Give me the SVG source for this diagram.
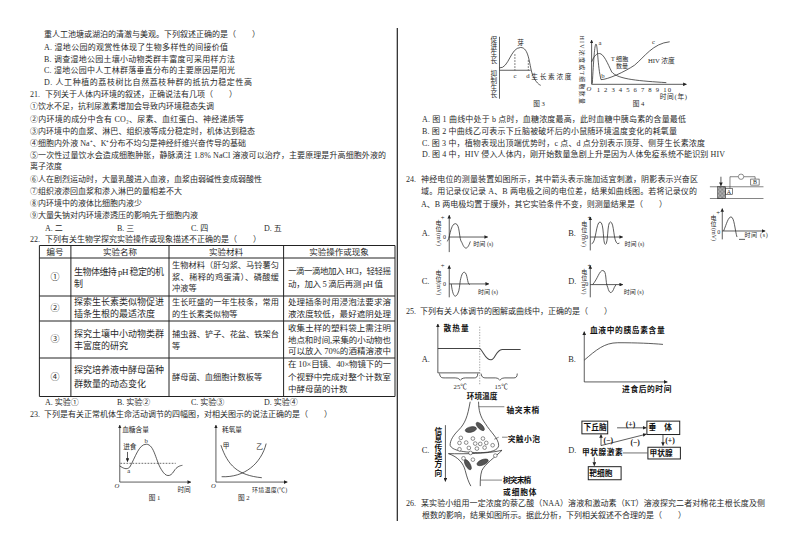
<svg xmlns="http://www.w3.org/2000/svg" width="794" height="560" viewBox="0 0 794 560">
<style>
text{font-family:"Liberation Serif","Noto Sans CJK SC",sans-serif;fill:#2a2a2a;font-size:8px}
.t9{font-size:9px}
.t8{font-size:8.2px}
.t85{font-size:8.5px}
.c{text-anchor:middle}
.f{font-size:20px}
.fs{font-size:18px}
.o{font-size:25px}
.b{font-size:23px;font-weight:700;fill:#111}
.l{fill:none;stroke:#222;stroke-width:2.2}
.th{fill:none;stroke:#333;stroke-width:1.8}
.d{fill:none;stroke:#222;stroke-width:2;stroke-dasharray:5 4}
.m{fill:#555;stroke:#222;stroke-width:1.5}
.box{fill:#fff;stroke:#222;stroke-width:3}
.ves{fill:#fff;stroke:#222;stroke-width:1.5}
</style>
<defs>
<marker id="a" markerWidth="5" markerHeight="5" refX="4.5" refY="2.5" orient="auto"><path d="M0 0L5 2.5L0 5z" fill="#222"/></marker>
<pattern id="h" width="4" height="4" patternUnits="userSpaceOnUse"><path d="M0 4L4 0" stroke="#222" stroke-width="1.2"/><path d="M0 0L4 4" stroke="#777" stroke-width="1"/></pattern>
</defs>
<rect width="794" height="560" fill="#fff"/>
<path d="M397.3 28V521" stroke="#222" stroke-width="1.2"/>

<g id="left-text">
<text x="44" y="37">重人工池塘或湖泊的清澈与美观。下列叙述正确的是（　　）</text>
<text x="44" y="49.5" textLength="184">A.  湿地公园的观赏性体现了生物多样性的间接价值</text>
<text x="44" y="61.5" textLength="191">B.  调查湿地公园土壤小动物类群丰富度可采用样方法</text>
<text x="44" y="73" textLength="191">C.  湿地公园中人工林群落垂直分布的主要原因是阳光</text>
<text x="44" y="85" textLength="208">D.  人工种植的荔枝树比自然荔枝种群的抵抗力稳定性高</text>
<text x="30" y="97">21.</text><text x="45" y="97">下列关于人体内环境的叙述，正确说法有几项（　　）</text>
<text x="30" y="109.4">①饮水不足，抗利尿激素增加会导致内环境稳态失调</text>
<text x="30" y="121.5" textLength="214">②内环境的成分中含有 CO₂、尿素、血红蛋白、神经递质等</text>
<text x="30" y="133.5" textLength="225">③内环境中的血浆、淋巴、组织液等成分稳定时，机体达到稳态</text>
<text x="30" y="145.6" textLength="216">④细胞内外液 Na⁺、K⁺分布不均匀是神经纤维兴奋传导的基础</text>
<text x="30" y="158" textLength="356">⑤一次性过量饮水会造成细胞肿胀，静脉滴注 1.8% NaCl 溶液可以治疗，主要原理是升高细胞外液的</text>
<text x="30" y="169">离子浓度</text>
<text x="30" y="182">⑥人在剧烈运动时，大量乳酸进入血液，血浆由弱碱性变成弱酸性</text>
<text x="30" y="194">⑦组织液渗回血浆和渗入淋巴的量相差不大</text>
<text x="30" y="206">⑧内环境中的液体比细胞内液少</text>
<text x="30" y="218">⑨大量失钠对内环境渗透压的影响先于细胞内液</text>
<text x="45" y="231">A.  二</text><text x="117" y="231">B.  三</text><text x="191" y="231">C.  四</text><text x="264" y="231">D.  五</text>
<text x="30" y="242.4">22.</text><text x="45" y="242.4">下列有关生物学探究实验操作或现象描述不正确的是（　　）</text>
<text x="45" y="405">A.  实验①</text><text x="117" y="405">B.  实验②</text><text x="191" y="405">C.  实验③</text><text x="264" y="405">D.  实验④</text>
<text x="30" y="417">23.</text><text x="44" y="417">下列是有关正常机体生命活动调节的四幅图，对相关图示的说法正确的是（　　）</text>
</g>

<g id="table">
<path d="M39.4 245.5H395V396.5H39.4Z M39.4 258H395 M39.4 296H395 M39.4 321H395 M39.4 358H395 M70.9 245.5V396.5 M169 245.5V396.5 M283.6 245.5V396.5" fill="none" stroke="#222" stroke-width="1"/>
<text class="t85 c" x="55" y="255">编号</text><text class="t85 c" x="120" y="255">实验名称</text><text class="t85 c" x="226" y="255">实验材料</text><text class="t85 c" x="339" y="255">实验操作或现象</text>
<text class="t9 c" x="55" y="280">①</text><text class="t9 c" x="55" y="311">②</text><text class="t9 c" x="55" y="342">③</text><text class="t9 c" x="55" y="380">④</text>
<text class="t9" x="74" y="275" textLength="90">生物体维持 pH 稳定的机</text><text class="t9" x="74" y="287">制</text>
<text class="t8" x="172" y="268" textLength="107">生物材料（肝匀浆、马铃薯匀</text><text class="t8" x="172" y="280" textLength="107">浆、稀释的鸡蛋清）、磷酸缓</text><text class="t8" x="172" y="291">冲液等</text>
<text class="t85" x="288" y="274" textLength="103">一滴一滴地加入 HCl，轻轻摇</text><text class="t85" x="288" y="287" textLength="95">动，加入 5 滴后再测 pH 值</text>
<text class="t9" x="74" y="305">探索生长素类似物促进</text><text class="t9" x="74" y="317">插条生根的最适浓度</text>
<text class="t8" x="172" y="305" textLength="107">生长旺盛的一年生枝条，常用</text><text class="t8" x="172" y="317">的生长素类似物等</text>
<text class="t85" x="288" y="305" textLength="103">处理插条时用浸泡法要求溶</text><text class="t85" x="288" y="317" textLength="103">液浓度较低，最好遮阴处理</text>
<text class="t9" x="74" y="337">探究土壤中小动物类群</text><text class="t9" x="74" y="349">丰富度的研究</text>
<text class="t8" x="172" y="337" textLength="107">捕虫器、铲子、花盆、铁架台</text><text class="t8" x="172" y="349">等</text>
<text class="t85" x="288" y="331" textLength="103">收集土样的塑料袋上需注明</text><text class="t85" x="288" y="343" textLength="103">地点和时间,采集的小动物也</text><text class="t85" x="288" y="354" textLength="103">可以放入 70%的酒精溶液中</text>
<text class="t9" x="74" y="373">探究培养液中酵母菌种</text><text class="t9" x="74" y="387">群数量的动态变化</text>
<text class="t8" x="172" y="380">酵母菌、血细胞计数板等</text>
<text class="t85" x="288" y="367" textLength="103">在 10×目镜、40×物镜下的一</text><text class="t85" x="288" y="380" textLength="103">个视野中完成对整个计数室</text><text class="t85" x="288" y="392">中酵母菌的计数</text>
</g>

<g id="fig1" transform="translate(30,400) scale(.335)">
<path class="l" marker-end="url(#a)" d="M268 245V75"/><path class="l" marker-end="url(#a)" d="M268 245H480"/>
<path class="d" d="M270 189H435"/>
<path class="l" d="M268 197C278 203 288 210 298 200C315 170 325 132 347 132C372 132 375 185 395 212C405 228 418 232 430 212C437 200 447 196 455 195"/>
<path class="l" marker-end="url(#a)" d="M291 155V184"/>
<text class="f" x="275" y="96">血糖含量</text><text class="f c" x="347" y="127">b</text><text class="f" x="278" y="145">进食</text><text class="f c" x="295" y="218">a</text>
<text class="f" x="252" y="263" font-style="italic">O</text><text class="f" x="440" y="275">时间</text><text class="f c" x="372" y="298">图 1</text>
</g>
<g id="fig2" transform="translate(30,400) scale(.335)">
<path class="l" marker-end="url(#a)" d="M555 245V75"/><path class="l" marker-end="url(#a)" d="M555 245H768"/>
<path class="l" d="M570 135C590 195 620 225 692 232"/><path class="l" d="M572 229C640 232 690 190 705 130"/>
<text class="f" x="573" y="96">耗氧量</text><text class="f c" x="585" y="143">甲</text><text class="f c" x="685" y="145">乙</text>
<text class="f" x="540" y="263" font-style="italic">O</text><text class="fs" x="663" y="276" textLength="105">环境温度(℃)</text><text class="f c" x="638" y="298">图 2</text>
</g>

<g id="right-fig3" transform="translate(400,20) scale(.335)">
<path class="l" d="M297 50V235"/><path class="l" d="M297 150H390"/>
<path class="l" d="M297 143C325 145 330 82 360 82C385 82 385 130 395 162C402 180 412 192 420 195"/>
<path class="d" d="M343 102V150"/><path class="d" d="M383 120V150"/>
<text class="f c" x="280" y="66"><tspan x="280">促</tspan><tspan x="280" dy="21">进</tspan><tspan x="280" dy="21">生</tspan><tspan x="280" dy="21">长</tspan></text>
<text class="f c" x="280" y="168"><tspan x="280">抑</tspan><tspan x="280" dy="21">制</tspan><tspan x="280" dy="21">生</tspan><tspan x="280" dy="21">长</tspan></text>
<text class="f c" x="360" y="75">芽</text><text class="f c" x="343" y="172">c</text><text class="f c" x="382" y="172">d</text>
<text class="f" x="392" y="175" textLength="120">生长素浓度</text><text class="f c" x="415" y="258">图 3</text>
</g>
<g id="right-fig4" transform="translate(400,20) scale(.335)">
<path class="l" marker-end="url(#a)" d="M572 192V60"/><path class="l" marker-end="url(#a)" d="M572 192H855"/>
<path class="l" d="M574 190C578 120 581 72 585 72C590 72 590 140 600 178C620 178 670 155 700 135C730 110 755 70 805 65"/>
<path class="l" d="M572 125C580 105 588 100 595 100C608 100 620 130 632 155C650 178 720 182 795 187"/>
<text class="fs" x="537" y="46" transform="rotate(90 537 46)" textLength="205">HIV浓度或T细胞数量</text>
<text class="f c" x="597" y="74">a</text><text class="f c" x="606" y="172">b</text><text class="f c" x="757" y="72">c</text>
<text class="fs" x="630" y="122">T 细胞</text><text class="fs" x="645" y="143">数量</text><text class="f" x="740" y="127" textLength="80">HIV 浓度</text>
<text class="f" x="557" y="213" font-style="italic">O</text>
<text class="f" x="587" y="214" textLength="222">1 2 3 4 5 6 7 8 9 10</text>
<text class="f" x="775" y="237" textLength="82">时间(年)</text><text class="f c" x="712" y="256">图 4</text>
</g>

<g id="right-text">
<text x="422" y="122" textLength="264">A.  图 1 曲线中处于 b 点时，血糖浓度最高，此时血糖中胰岛素的含量最低</text>
<text x="422" y="133.5" textLength="255">B.  图 2 中曲线乙可表示下丘脑被破坏后的小鼠随环境温度变化的耗氧量</text>
<text x="422" y="146" textLength="283">C.  图 3 中，植物表现出顶端优势时，c 点、d 点分别表示顶芽、侧芽生长素浓度</text>
<text x="422" y="157" textLength="303">D.  图 4 中，HIV 侵入人体内，刚开始数量急剧上升是因为人体免疫系统不能识别 HIV</text>
<text x="406" y="182">24.</text><text x="421" y="182" textLength="277">神经电位的测量装置如图所示，其中箭头表示施加适宜刺激，阴影表示兴奋区</text>
<text x="421" y="194" textLength="276">域。用记录仪记录 A、B 两电极之间的电位差，结果如曲线图。若将记录仪的</text>
<text x="421" y="207" textLength="246">A、B 两电极均置于膜外，其它实验条件不变，则测量结果是（　　）</text>
<text x="406" y="314">25.</text><text x="420" y="314">下列有关人体调节的图解或曲线中，正确的是（　　）</text>
<text x="406" y="506">26.</text><text x="421" y="506" textLength="344">某实验小组用一定浓度的萘乙酸（NAA）溶液和激动素（KT）溶液探究二者对棉花主根长度及侧</text>
<text x="422" y="518" textLength="264">根数的影响，结果如图所示。据此分析，下列相关叙述不合理的是（　　）</text>
</g>

<g id="q24-figures" transform="translate(400,165) scale(.335)">
<g id="apparatus">
<path class="th" d="M925 65H1085M925 100H1085"/>
<rect x="948" y="65" width="24" height="35" fill="url(#h)" stroke="#222" stroke-width="1.5"/>
<path class="l" marker-end="url(#a)" d="M958 35V62"/>
<path class="th" d="M985 70V35H1010M1026 35H1060V42"/>
<circle class="ves" cx="1018" cy="35" r="8"/>
<rect class="th" x="972" y="70" width="20" height="18"/><rect class="th" x="1047" y="42" width="25" height="18"/>
<text class="fs c" x="982" y="86">A</text><text class="fs c" x="1060" y="58">B</text>
</g>
<g id="result">
<path class="l" marker-end="url(#a)" d="M962 222V130"/><path class="l" marker-end="url(#a)" d="M962 197H1090"/>
<path class="l" d="M966 197C975 175 980 155 988 155C998 155 1000 197 1006 215M1012 222H1030"/>
<text class="fs c" x="936" y="165"><tspan x="936">电</tspan><tspan x="936" dy="18">位</tspan></text><text class="fs" x="930" y="188" transform="rotate(90 930 188)">(mV)</text><text class="f" x="944" y="150">+</text><text class="fs" x="947" y="205">0</text><text class="fs" x="1028" y="214" textLength="70">时间 (s)</text>
</g>
<g id="optA">
<path class="l" marker-end="url(#a)" d="M147 260V150"/><path class="l" marker-end="url(#a)" d="M147 215H262"/>
<path class="l" d="M140 228C148 228 150 175 165 175C180 175 175 222 185 232C192 250 200 258 210 228"/>
<text class="o" x="65" y="212">A.</text><text class="fs c" x="115" y="180"><tspan x="115">电</tspan><tspan x="115" dy="18">位</tspan></text><text class="fs" x="109" y="203" transform="rotate(90 109 203)">(mV)</text><text class="f" x="122" y="165">+</text><text class="fs" x="128" y="221">0</text><text class="fs" x="219" y="241">时间 (s)</text>
</g>
<g id="optB">
<path class="l" marker-end="url(#a)" d="M568 255V155"/><path class="l" marker-end="url(#a)" d="M568 215H665"/>
<path class="l" d="M572 235C585 235 585 170 597 170C610 170 605 237 613 237C622 237 618 170 628 170C640 170 636 230 650 235L655 233"/>
<text class="o" x="502" y="212">B.</text><text class="fs c" x="550" y="183"><tspan x="550">电</tspan><tspan x="550" dy="18">位</tspan></text><text class="fs" x="544" y="206" transform="rotate(90 544 206)">(mV)</text><text class="f" x="560" y="165">+</text><text class="fs" x="552" y="221">0</text><text class="fs" x="670" y="241">时间 (s)</text>
</g>
<g id="optC">
<path class="l" marker-end="url(#a)" d="M147 395V300"/><path class="l" marker-end="url(#a)" d="M147 355H265"/>
<path class="l" d="M153 355C158 395 165 397 172 385C178 375 178 355 180 345C184 325 188 320 192 320C202 322 200 355 208 357"/>
<text class="o" x="65" y="355">C.</text><text class="fs c" x="115" y="327"><tspan x="115">电</tspan><tspan x="115" dy="18">位</tspan></text><text class="fs" x="109" y="350" transform="rotate(90 109 350)">(mV)</text><text class="f" x="122" y="308">+</text><text class="fs" x="128" y="362">0</text><text class="fs" x="233" y="384">时间 (s)</text>
</g>
<g id="optD">
<path class="l" marker-end="url(#a)" d="M568 395V300"/><path class="l" marker-end="url(#a)" d="M568 357H665"/>
<path class="l" d="M575 357C590 340 595 315 605 315C618 315 612 350 620 365C625 385 632 387 640 365L645 357"/>
<text class="o" x="502" y="355">D.</text><text class="fs c" x="550" y="325"><tspan x="550">电</tspan><tspan x="550" dy="18">位</tspan></text><text class="fs" x="544" y="348" transform="rotate(90 544 348)">(mV)</text><text class="f" x="560" y="308">+</text><text class="fs" x="553" y="362">0</text><text class="fs" x="668" y="384">时间 (s)</text>
</g>
</g>

<g id="q25A" transform="translate(400,330) scale(.335)">
<path class="l" marker-end="url(#a)" d="M113 128V-18"/><path class="l" d="M113 128H238"/>
<path d="M238 -10V165" fill="none" stroke="#555" stroke-width="1.6" stroke-dasharray="4 4"/>
<path fill="none" stroke="#444" stroke-width="3" d="M113 55H238C250 65 255 90 272 89C285 88 285 60 305 58H360"/>
<path class="l" d="M118 130C120 143 125 143 135 143H165C175 143 178 148 180 150C182 148 185 143 195 143H222C228 143 232 140 232 130"/>
<path class="l" d="M242 130C244 143 250 143 260 143H285C293 143 296 148 298 150C300 148 303 143 313 143H340C346 143 350 140 350 130"/>
<text class="b" x="130" y="2" textLength="75">散热量</text>
<text class="o" x="65" y="96">A.</text><text class="f c" x="180" y="176">25℃</text><text class="f c" x="302" y="176">15℃</text><text class="b c" x="245" y="205">环境温度</text>
</g>
<g id="q25B" transform="translate(400,330) scale(.335)">
<path class="l" marker-end="url(#a)" d="M550 155V5"/><path class="l" marker-end="url(#a)" d="M550 155H798"/>
<path fill="none" stroke="#333" stroke-width="2.4" d="M550 90C585 60 610 38 650 38C710 38 750 40 785 43"/>
<text class="o" x="502" y="96">B.</text>
<text class="b" x="567" y="8" textLength="223">血液中的胰岛素含量</text>
<text class="b" x="663" y="185" textLength="147">进食后的时间</text>
</g>
<g id="q25C" transform="translate(430,395) scale(.335)">
<path class="l" d="M120 20C112 65 105 85 85 105C70 120 60 135 60 150C65 165 100 172 150 172C180 172 205 165 205 150C205 130 180 110 165 85C150 65 145 45 145 20"/>
<path class="l" d="M55 175C100 176 170 176 215 165C195 185 165 205 155 225C150 240 150 255 150 272M55 175C85 185 100 205 105 225C110 245 115 260 122 272"/>
<path class="l" marker-end="url(#a)" d="M46 90V258"/>
<path class="th" d="M145 35H222M205 126L192 132M215 126H232M152 254H215"/>
<g id="vesicles">
<circle class="ves" cx="92" cy="128" r="5.5"/><circle class="ves" cx="128" cy="130" r="5.5"/><circle class="ves" cx="158" cy="130" r="5.5"/><circle class="ves" cx="88" cy="143" r="5.5"/><circle class="ves" cx="108" cy="142" r="5.5"/><circle class="ves" cx="135" cy="145" r="5.5"/><circle class="ves" cx="150" cy="146" r="5.5"/><circle class="ves" cx="168" cy="143" r="5.5"/><circle class="ves" cx="116" cy="158" r="5.5"/><circle class="ves" cx="140" cy="160" r="5.5"/><circle class="ves" cx="163" cy="157" r="5.5"/><circle class="ves" cx="187" cy="150" r="5.5"/><circle class="ves" cx="88" cy="162" r="5.5"/><circle class="ves" cx="121" cy="173" r="5.5"/><circle class="ves" cx="195" cy="181" r="5.5"/><circle class="ves" cx="100" cy="189" r="5.5"/><circle class="ves" cx="128" cy="193" r="5.5"/>
</g>
<ellipse class="m" cx="122" cy="103" rx="17" ry="8" transform="rotate(-12 122 103)"/><ellipse class="m" cx="150" cy="94" rx="16" ry="7" transform="rotate(45 150 94)"/><ellipse class="m" cx="113" cy="208" rx="17" ry="7" transform="rotate(60 113 208)"/><ellipse class="m" cx="157" cy="201" rx="18" ry="8" transform="rotate(-22 157 201)"/>
<text class="b c" x="25" y="116"><tspan x="25">信</tspan><tspan x="25" dy="25">息</tspan><tspan x="25" dy="25">传</tspan><tspan x="25" dy="25">递</tspan><tspan x="25" dy="25">方</tspan><tspan x="25" dy="25">向</tspan></text>
<text class="b" x="228" y="55" textLength="98">轴突末梢</text><text class="b" x="232" y="140" textLength="96">突触小泡</text><text class="b" x="218" y="264" textLength="84">树突末梢</text><text class="b" x="218" y="298" textLength="100">或细胞体</text>
<text class="o" x="-25" y="174">C.</text>
</g>
<g id="q25D" transform="translate(400,330) scale(.335)">
<text class="o" x="502" y="368">D.</text>
<g id="hypothalamus"><rect class="box" x="543" y="272" width="77" height="38"/><text class="b" x="548" y="298">下丘脑</text></g>
<g id="pituitary"><rect class="box" x="737" y="272" width="98" height="40"/><text class="b" x="742" y="299" textLength="70">垂  体</text></g>
<g id="thyroid"><rect class="box" x="740" y="350" width="97" height="35"/><text class="b" x="745" y="376">甲状腺</text></g>
<g id="target"><rect class="box" x="562" y="408" width="98" height="39"/><text class="b" x="565" y="436">靶细胞</text></g>
<text class="b" x="543" y="373" textLength="122">甲状腺激素</text>
<g id="connectors">
<path class="l" marker-end="url(#a)" d="M648 292H735"/><path class="l" marker-end="url(#a)" d="M785 312V345"/>
<path fill="none" stroke="#555" stroke-width="2.5" d="M740 367H665"/>
<path class="l" marker-end="url(#a)" d="M580 380V405"/><path class="l" marker-end="url(#a)" d="M600 345V312"/><path class="l" marker-end="url(#a)" d="M600 345L735 311"/>
</g>
<text class="b c" x="688" y="290">(+)</text><text class="b c" x="806" y="338">(+)</text><text class="b c" x="622" y="336">(−)</text><text class="b c" x="702" y="343">(−)</text>
</g>
</svg>
